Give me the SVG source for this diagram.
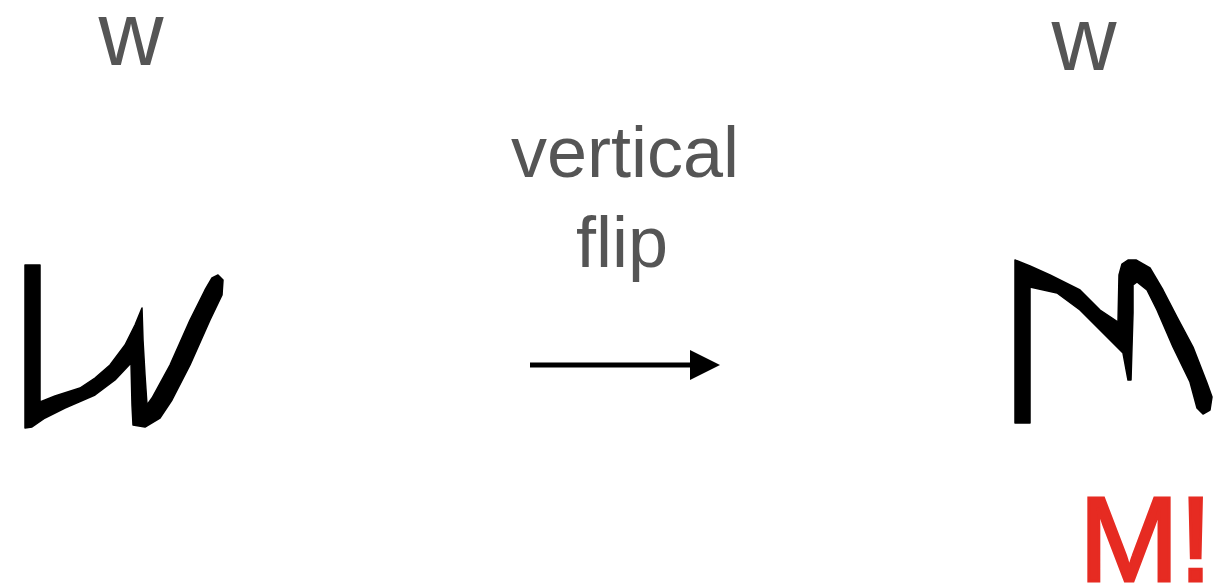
<svg xmlns="http://www.w3.org/2000/svg" width="1217" height="587" viewBox="0 0 1217 587">
<defs>
<style>
.lbl{font-family:"Liberation Sans",Arial,sans-serif;fill:#555555}
.ink{fill:#000000;stroke:#000000;stroke-width:1.5;stroke-linejoin:round}
.warn{font-family:"Liberation Sans",Arial,sans-serif;fill:#e62b22;stroke:#e62b22;stroke-width:3}
</style>
</defs>
<rect width="1217" height="587" fill="#ffffff"/>
<g id="left">
<text class="lbl" x="131" y="65" font-size="90" text-anchor="middle">w</text>
<polygon class="ink" points="25,265 40,265 40,402 55,396 80,388 95,378 110,365 125,345 135,325 142,308 143,340 145,375 147,405 152,398 170,365 190,320 205,290 212,278 218,275 223,280 222,295 210,320 190,365 172,400 160,418 145,427 133,425 132,405 131,363 115,380 95,395 65,408 45,418 32,427 25,428"/>
</g>
<g id="right">
<text class="lbl" x="1084" y="70" font-size="90" text-anchor="middle">w</text>
<polygon class="ink" points="1015,260 1030,266 1050,275 1080,290 1100,310 1118,322 1119,275 1122,264 1128,260 1136,260 1150,268 1163,290 1177,317 1193,347 1207,383 1212,397 1210,410 1203,414 1197,408 1190,382 1173,347 1157,310 1147,290 1137,282 1133,285 1133,313 1131,380 1128,380 1123,353 1103,333 1080,310 1057,293 1030,287 1030,423 1015,423"/>
<text class="warn" x="1079" y="581" font-size="120">M!</text>
</g>
<g id="connectors">
<line x1="530" y1="365" x2="690" y2="365" stroke="#000" stroke-width="5"/>
<polygon points="690,350 720,365 690,380" fill="#000"/>
<text class="lbl" x="625" y="177" font-size="72" text-anchor="middle">vertical</text>
<text class="lbl" x="622" y="267" font-size="72" text-anchor="middle">flip</text>
</g>
</svg>
